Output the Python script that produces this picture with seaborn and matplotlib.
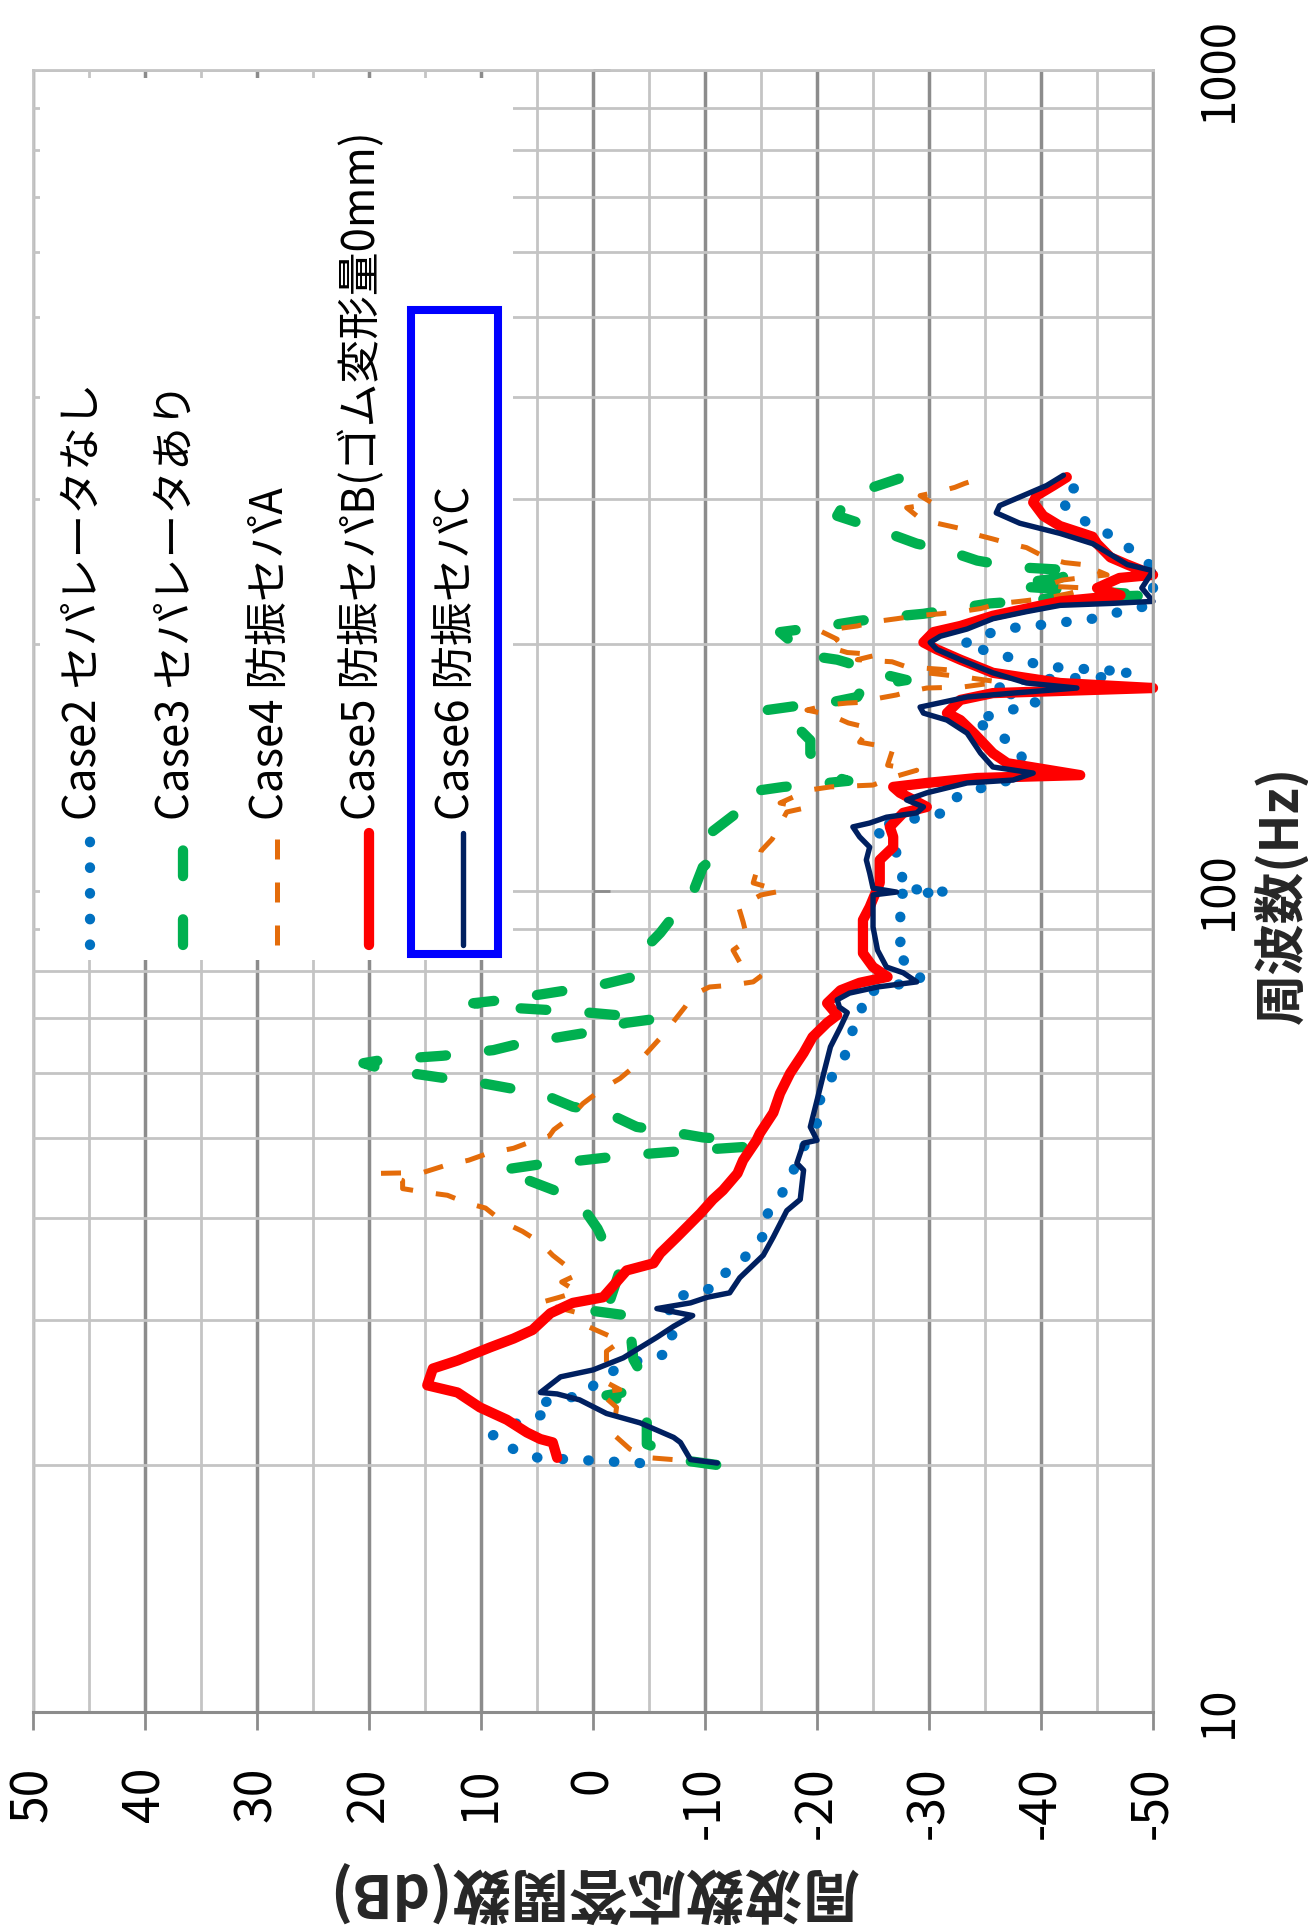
import matplotlib
matplotlib.use("Agg")
import matplotlib.pyplot as plt
import matplotlib.ticker as mticker
from matplotlib.lines import Line2D
from matplotlib.patches import Rectangle
import seaborn as sns

sns.set_theme(style="white")
plt.rcParams["font.family"] = ["Noto Sans CJK JP", "DejaVu Sans"]
plt.rcParams["axes.unicode_minus"] = False

# ---- measured frequency responses (frequency in Hz, level in dB) ----
labels = ["Case2 セパレータなし", "Case3 セパレータあり", "Case4 防振セパA",
          "Case5 防振セパB(ゴム変形量0mm)", "Case6 防振セパC"]

f2 = [20.1, 20.4, 20.9, 21.7, 22.0, 22.7, 23.1, 23.8, 24.1, 24.5, 25.4, 26.2, 26.9, 27.3, 28.5,
      28.8, 31.7, 32.4, 32.9, 34.1, 35.2, 38.3, 40.1, 42.9, 45.7, 49.7, 53.3, 55.1, 58.0, 60.5,
      63.1, 65.5, 67.7, 71.1, 73.7, 75.3, 76.8, 77.5, 79.7, 81.9, 84.7, 87.2, 94.3, 99.2, 99.7,
      100.8, 106.1, 112.2, 119.7, 124.5, 129.1, 132.7, 137.3, 140.3, 144.3, 149.7, 155.7, 161.5,
      169.4, 172.3, 175.7, 180.7, 182.3, 184.9, 187.5, 191.3, 195.2, 199.7, 204.3, 208.5, 211.5,
      214.6, 218.9, 222.8, 233.9, 247.6, 257.0, 270.1, 278.3, 290.4, 300.7, 309.3, 311.8]
d2 = [-4.2, 4.9, 7.1, 9.0, 8.3, 6.1, 4.1, 4.7, 2.3, 0.4, -0.4, -2.2, -4.4, -6.6, -6.7,
      -7.1, -6.7, -8.7, -11.0, -11.6, -13.1, -15.4, -15.4, -16.9, -17.9, -19.1, -20.4, -20.1, -21.0, -21.6,
      -22.5, -22.7, -23.2, -24.1, -23.8, -24.7, -26.8, -29.2, -29.2, -27.9, -26.8, -27.6, -27.4, -27.4, -31.7,
      -27.6, -27.6, -27.0, -25.0, -31.3, -31.9, -34.0, -37.9, -39.5, -38.4, -37.9, -36.0, -34.0,
      -39.6, -38.4, -35.7, -38.0, -45.9, -48.0, -40.8, -37.9, -35.7, -33.0, -34.6, -36.6, -40.8,
      -44.6, -47.1, -49.7, -50.0, -50.0, -48.6, -46.5, -44.6, -42.5, -41.7, -42.9, -45.1]

f3 = [20.0, 20.2, 20.9, 21.2, 22.7, 23.5, 24.3, 24.7, 25.2, 26.3, 26.9, 29.5, 30.3, 30.8, 31.3,
      31.7, 34.5, 36.7, 38.3, 38.8, 41.7, 42.6, 44.7, 45.7, 46.4, 46.8, 47.3, 47.7, 48.1, 48.4,
      48.8, 49.7, 50.1, 50.9, 51.6, 53.7, 54.6, 56.7, 57.5, 58.5, 59.1, 60.0, 60.8, 61.7, 62.2,
      62.6, 63.0, 64.0, 65.3, 66.4, 67.3, 69.1, 69.8, 70.6, 71.2, 71.6, 72.0, 72.6, 73.0, 73.7,
      74.7, 75.7, 76.8, 78.4, 84.7, 88.9, 95.6, 99.4, 106.9, 111.5, 117.7, 124.1, 130.5, 132.7,
      133.9, 135.0, 136.2, 139.2, 147.2, 152.6, 161.5, 166.1, 168.5, 169.9, 172.3, 177.2, 180.7,
      184.9, 189.7, 191.3, 194.0, 198.6, 206.7, 210.3, 213.2, 215.7, 217.6, 220.8, 224.0, 225.3,
      227.3, 227.9, 229.2, 235.2, 238.5, 240.6, 245.5, 247.6, 249.8, 252.6, 259.9, 264.9, 271.7,
      279.7, 286.4, 300.7, 309.3, 318.2]
d3 = [-11.0, -8.7, -6.0, -4.8, -4.8, -4.4, -1.2, -4.2, -3.9, -4.0, -3.6, -3.3, -3.9, 0.0, 0.9,
      -1.5, -2.4, -1.2, -0.6, -0.4, 1.2, 2.3, 6.3, 8.3, 5.0, 2.1, -0.9, -3.6, -6.9, -9.8,
      -13.7, -12.9, -9.8, -6.9, -3.9, -1.2, 1.8, 4.7, 7.4, 10.4, 13.0, 16.3, 19.0, 20.5, 19.0,
      16.3, 13.4, 8.9, 6.3, 2.9, 0.3, -3.0, -5.4, -2.1, 0.9, 3.8, 6.8, 8.9, 10.7, 8.0,
      5.0, 2.3, -0.6, -3.3, -4.5, -6.0, -7.8, -8.9, -9.8, -11.3, -10.5, -12.7, -13.1, -15.0,
      -17.0, -20.0, -22.8, -20.4, -19.4, -19.4, -17.6, -15.5, -18.8, -21.4, -23.6, -24.1, -28.0,
      -25.0, -22.7, -21.8, -18.8, -18.2, -16.7, -20.9, -23.6, -26.5, -29.5, -32.5, -35.4, -38.0,
      -41.0, -44.6, -50.0, -37.5, -39.6, -41.7, -43.5, -38.7, -36.3, -34.3, -31.6, -28.9, -26.7,
      -24.1, -21.8, -22.7, -24.7, -27.4]

f4 = [20.3, 20.4, 20.9, 21.8, 23.5, 24.5, 24.7, 25.2, 27.5, 28.3, 29.5, 30.6, 31.5, 32.0, 32.5,
      33.4, 34.1, 36.0, 37.3, 38.5, 39.5, 41.1, 41.7, 42.6, 43.0, 43.4, 44.4, 45.3, 45.4, 46.4,
      47.0, 47.9, 48.6, 49.7, 50.3, 51.2, 52.9, 55.1, 57.5, 59.1, 61.0, 63.5, 66.2, 69.1, 72.2,
      74.7, 76.4, 76.8, 77.5, 78.6, 81.9, 84.7, 87.2, 91.7, 95.6, 98.9, 100.0, 102.3, 106.7, 111.9,
      115.7, 124.8, 126.2, 128.0, 130.2, 132.8, 133.9, 134.6, 138.0, 140.3, 142.3, 149.3, 151.8,
      157.9, 160.2, 163.8, 166.1, 168.5, 169.4, 169.9, 171.8, 173.3, 174.7, 176.7, 177.2, 179.7,
      182.3, 184.4, 186.0, 187.5, 190.2, 191.3, 194.0, 195.2, 198.6, 202.6, 207.3, 210.3, 212.7,
      214.6, 216.4, 217.6, 218.9, 220.8, 224.0, 225.3, 227.3, 230.5, 233.9, 235.2, 239.2, 242.7,
      247.6, 249.1, 251.2, 254.9, 259.9, 262.0, 264.9, 268.4, 272.6, 276.8, 280.5, 286.4, 293.0,
      296.3, 303.1, 306.8, 310.2, 313.7, 318.2]
d4 = [-7.1, -5.1, -3.3, -1.8, -2.1, -0.6, -2.4, -1.2, -1.2, -2.5, 0.5, 1.2, 4.8, 3.0, 1.4,
      2.8, 1.4, 3.6, 4.7, 6.3, 8.0, 9.6, 11.3, 13.0, 15.2, 17.0, 17.0, 19.0, 15.2, 13.0,
      11.1, 9.4, 7.1, 5.2, 3.9, 3.5, 2.1, 0.9, -0.9, -2.4, -3.6, -4.8, -6.0, -7.1, -8.2,
      -8.9, -10.4, -12.4, -14.3, -14.9, -13.1, -12.5, -13.8, -13.4, -13.0, -15.0, -16.8, -14.3, -14.7, -15.0,
      -16.0, -17.3, -18.9, -16.7, -17.9, -19.4, -21.2, -25.0, -27.1, -28.9, -26.3, -26.8, -23.8,
      -24.7, -22.8, -21.2, -19.1, -20.9, -22.7, -24.5, -25.6, -27.1, -28.0, -29.8, -33.0, -36.3,
      -33.0, -29.8, -31.6, -28.0, -26.7, -23.6, -25.4, -22.7, -20.9, -21.8, -20.3, -23.6, -25.0,
      -27.1, -28.9, -31.0, -32.8, -34.6, -36.3, -38.1, -40.5, -42.6, -44.1, -40.4, -41.9, -45.9,
      -44.4, -44.6, -42.1, -40.4, -39.2, -38.7, -37.2, -35.7, -33.8, -32.6, -30.7, -28.9, -28.0,
      -30.4, -29.2, -31.0, -32.3, -33.2, -34.6]

f5 = [20.4, 21.3, 21.5, 21.9, 22.7, 23.5, 24.5, 25.0, 26.2, 26.8, 27.8, 28.5, 29.2, 30.6, 31.5,
      32.0, 33.4, 34.5, 35.2, 36.2, 37.9, 40.5, 42.1, 43.2, 45.3, 47.0, 49.7, 50.7, 53.7, 56.7,
      60.0, 63.5, 66.4, 69.1, 70.6, 73.0, 75.7, 77.3, 78.6, 80.8, 84.0, 92.2, 95.6, 102.3, 109.1,
      113.1, 116.4, 119.7, 124.5, 126.6, 131.7, 133.9, 135.4, 137.3, 138.4, 143.1, 147.2, 155.7,
      161.5, 164.7, 170.9, 174.2, 176.7, 179.2, 184.4, 191.3, 196.9, 200.8, 206.7, 210.3, 216.4,
      220.8, 225.3, 227.3, 229.2, 233.9, 240.6, 242.7, 249.8, 254.9, 264.9, 270.1, 278.3, 286.4,
      297.4, 303.1, 311.8, 319.2]
d5 = [3.2, 3.6, 4.7, 5.9, 7.7, 10.1, 12.1, 14.8, 14.3, 12.1, 9.2, 7.1, 5.4, 3.8, 1.8,
      -0.9, -2.1, -3.0, -5.4, -6.0, -7.5, -9.6, -10.7, -11.6, -12.9, -13.4, -14.6, -14.9, -16.1, -16.7,
      -17.6, -18.8, -19.6, -20.9, -21.8, -20.9, -22.1, -23.8, -26.3, -25.0, -24.1, -24.1, -24.7, -25.6, -25.6,
      -26.8, -26.8, -26.5, -27.7, -29.8, -27.4, -26.8, -29.8, -34.3, -43.5, -37.0, -35.7, -34.0,
      -32.8, -31.6, -32.8, -35.7, -50.0, -41.7, -35.7, -32.8, -30.7, -29.5, -30.4, -32.8, -35.7,
      -38.7, -41.7, -44.6, -47.1, -45.0, -47.0, -50.0, -47.7, -46.2, -45.0, -44.6, -41.7, -40.2,
      -39.3, -39.6, -41.1, -42.3]

f6 = [20.1, 20.3, 21.3, 21.6, 22.5, 23.1, 24.0, 24.4, 24.5, 25.6, 26.1, 27.0, 28.6, 29.5, 30.4,
      31.0, 31.5, 32.0, 32.4, 33.8, 36.0, 37.9, 40.8, 42.1, 45.7, 46.6, 49.3, 49.7, 51.6, 55.6,
      60.0, 64.6, 68.3, 71.1, 72.2, 73.7, 75.1, 76.4, 77.5, 79.5, 80.8, 84.7, 90.4, 98.9, 99.7,
      100.8, 105.2, 109.1, 113.1, 116.4, 119.7, 121.0, 123.0, 124.5, 126.6, 129.1, 131.7, 135.4,
      136.5, 139.2, 141.6, 147.2, 155.7, 161.5, 164.7, 167.5, 172.3, 174.2, 176.7, 179.2, 184.4,
      191.3, 196.9, 200.8, 204.3, 208.5, 214.6, 218.9, 222.8, 224.0, 225.3, 233.9, 245.5, 249.8,
      257.0, 264.9, 272.6, 280.5, 288.8, 294.7, 303.1, 311.8, 320.9]
d6 = [-11.1, -8.7, -7.8, -7.2, -4.2, -1.2, 1.2, 3.2, 4.7, 2.9, 0.0, -2.7, -5.7, -7.2, -8.9,
      -5.7, -8.7, -10.2, -12.2, -13.1, -15.2, -16.1, -17.3, -18.5, -18.8, -18.2, -18.8, -20.0, -19.4, -20.0,
      -20.6, -21.2, -22.1, -22.7, -22.0, -21.8, -22.9, -25.4, -28.9, -27.7, -26.2, -25.4, -25.0, -25.0, -27.1,
      -25.0, -24.7, -24.4, -24.7, -23.8, -23.2, -24.7, -26.2, -28.9, -29.5, -28.0, -29.8, -33.4,
      -37.5, -39.3, -35.7, -34.6, -33.4, -31.6, -29.5, -29.2, -33.4, -37.5, -43.2, -38.7, -35.7,
      -32.8, -30.7, -30.1, -31.0, -33.4, -35.7, -38.7, -41.7, -46.2, -50.0, -49.0, -50.0, -47.7,
      -46.2, -44.6, -41.7, -38.1, -36.0, -36.3, -38.4, -40.5, -42.0]

db_ticks = [50, 40, 30, 20, 10, 0, -10, -20, -30, -40, -50]
freq_ticks = [10, 100, 1000]

# line appearance of each case
styles = [
    dict(color="#0070C0", linewidth=7.4, linestyle=(0, (0.05, 2.45)), dash_capstyle="round"),
    dict(color="#00B050", linewidth=7.4, linestyle=(0, (2.5, 4.2)), dash_capstyle="round"),
    dict(color="#E46C0A", linewidth=3.6, linestyle=(0, (4.0, 4.6)), dash_capstyle="butt"),
    dict(color="#FF0000", linewidth=7.4, linestyle="-", solid_capstyle="round", solid_joinstyle="round"),
    dict(color="#002060", linewidth=3.9, linestyle="-", solid_capstyle="round", solid_joinstyle="round"),
]
freqs = [f2, f3, f4, f5, f6]
levels = [d2, d3, d4, d5, d6]

fig = plt.figure(figsize=(13.08, 19.32), dpi=100, facecolor="white")
ax = fig.add_axes([0.02523, 0.11387, 0.8563, 0.8499])
ax.set_facecolor("white")

# level runs along the horizontal axis, frequency along the vertical one
for i, (f, d, st) in enumerate(zip(freqs, levels, styles)):
    sns.lineplot(x=d, y=f, sort=False, estimator=None, ax=ax, zorder=2.1 + 0.1 * i,
                 clip_on=False, **st)

ax.set_yscale("log")
ax.set_ylim(10, 1000)
ax.set_xlim(50, -50)

ax.xaxis.set_major_locator(mticker.FixedLocator(db_ticks))
ax.xaxis.set_minor_locator(mticker.MultipleLocator(5))
ax.xaxis.set_major_formatter(mticker.FuncFormatter(lambda v, p: f"{int(round(v))}"))
ax.yaxis.set_major_locator(mticker.FixedLocator(freq_ticks))
ax.yaxis.set_minor_locator(mticker.FixedLocator(
    [m * 10 for m in range(2, 10)] + [m * 100 for m in range(2, 10)]))
ax.yaxis.set_major_formatter(mticker.FuncFormatter(lambda v, p: f"{int(round(v))}"))
ax.yaxis.set_minor_formatter(mticker.NullFormatter())

ax.set_axisbelow(True)
ax.grid(which="major", axis="x", color="#8C8C8C", linewidth=2.5)
ax.grid(which="minor", axis="x", color="#C4C4C4", linewidth=2.0)
ax.grid(which="both", axis="y", color="#C4C4C4", linewidth=2.0)

# frequency axis line sits at 0 dB with short ticks at each decade
ax.hlines(freq_ticks, 0, -1.5, colors="#8C8C8C", linewidth=2.0, zorder=0.8, clip_on=False)

for side in ("left", "top"):
    ax.spines[side].set_color("#C4C4C4")
    ax.spines[side].set_linewidth(2.0)
ax.spines["right"].set_color("#A6A6A6")
ax.spines["right"].set_linewidth(2.0)
ax.spines["bottom"].set_color("#8C8C8C")
ax.spines["bottom"].set_linewidth(2.2)

ax.yaxis.tick_right()
ax.tick_params(axis="x", which="major", direction="out", length=13, width=2.0,
               color="#8C8C8C", pad=26, labelsize=36, labelrotation=90, labelcolor="black",
               bottom=True, top=False)
ax.tick_params(axis="x", which="minor", length=0)
ax.tick_params(axis="y", which="both", length=0, pad=30, labelsize=34,
               labelrotation=90, labelcolor="black", left=False, right=True,
               labelleft=False, labelright=True)
for lab in ax.get_xticklabels():
    lab.set_ha("center")
    lab.set_va("top")
for lab in ax.yaxis.get_ticklabels():
    lab.set_ha("left")
    lab.set_va("center")

ax.set_xlabel("周波数応答関数(dB)", fontsize=42, fontweight="bold", rotation=180)
ax.xaxis.set_label_coords(0.5, -0.109)
ax.xaxis.label.set_va("center")
ax.xaxis.label.set_ha("center")
ax.yaxis.set_label_position("right")
ax.set_ylabel("周波数(Hz)", fontsize=37, fontweight="bold", rotation=90)
ax.yaxis.set_label_coords(1.1148, 0.4976)
ax.yaxis.label.set_va("center")
ax.yaxis.label.set_ha("center")

# legend panel (drawn upright to follow the rotated layout)
ax.add_patch(Rectangle((0.00625, 0.458), 0.4223, 0.537, transform=ax.transAxes,
                       facecolor="white", edgecolor="none", zorder=1.5))
legend_x = [0.0509, 0.1339, 0.2179, 0.3000, 0.3839]
for xc, lab, st in zip(legend_x, labels, styles):
    ax.add_line(Line2D([xc, xc], [0.4671, 0.5353], transform=ax.transAxes,
                       zorder=3, **st))
    ax.text(xc - 0.0063, 0.5432, lab, transform=ax.transAxes, rotation=90,
            ha="center", va="bottom", fontsize=31.5, color="black", zorder=3)
ax.add_patch(Rectangle((0.3375, 0.4616), 0.0777, 0.3922, transform=ax.transAxes,
                       fill=False, edgecolor="#0000FF", linewidth=5.8, zorder=3))

fig.savefig("out.png", dpi=100, facecolor="white")
